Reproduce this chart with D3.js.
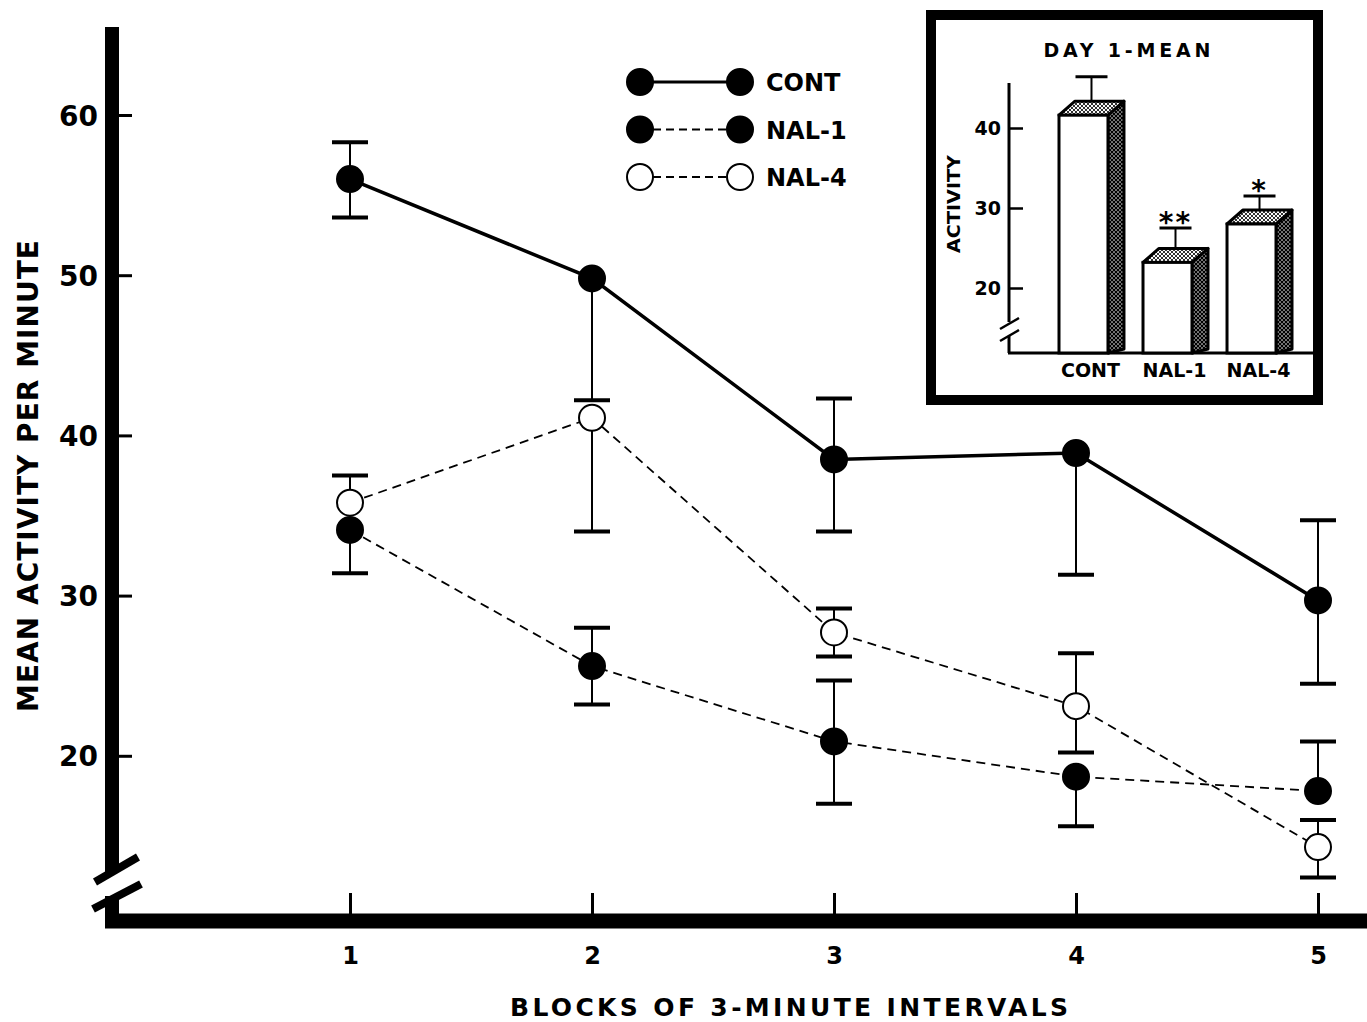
<!DOCTYPE html>
<html lang="en">
<head>
<meta charset="UTF-8">
<title>Mean activity per minute</title>
<script src="https://cdn.jsdelivr.net/npm/d3@7/dist/d3.min.js"></script>
<style>
  * { margin: 0; padding: 0; }
  body { background: #fff; }
  svg { display: block; }
  text { font-family: 'DejaVu Sans', sans-serif; font-weight: bold; fill: #000; }
</style>
</head>
<body>
<svg id="chart" width="1367" height="1022"></svg>
<script>
// ─── Data ────────────────────────────────────────────────────────────────────

const blocks  = [1, 2, 3, 4, 5];
const yTicks  = [20, 30, 40, 50, 60];

// main chart: means and the error bar ends that are drawn (null = not drawn)
const contMean = [56.0, 49.8, 38.5, 38.9, 29.7];
const contHi   = [58.3, null, 42.3, null, 34.7];
const contLo   = [53.6, 42.2, 34.0, 31.3, 24.5];

const nal1Mean = [34.1, 25.6, 20.9, 18.7, 17.8];
const nal1Hi   = [null, 28.0, 24.7, null, 20.9];
const nal1Lo   = [31.4, 23.2, 17.0, 15.6, null];

const nal4Mean = [35.8, 41.1, 27.7, 23.1, 14.3];
const nal4Hi   = [37.5, null, 29.2, 26.4, 16.0];
const nal4Lo   = [null, 34.0, 26.2, 20.2, 12.4];

const seriesNames = ['CONT', 'NAL-1', 'NAL-4'];

// inset: day 1 mean
const insetCats  = ['CONT', 'NAL-1', 'NAL-4'];
const insetMean  = [41.6, 23.2, 28.0];
const insetErr   = [46.4, 27.5, 31.5];
const insetStars = ['', '**', '*'];
const insetTicks = [20, 30, 40];

// ─── Setup ───────────────────────────────────────────────────────────────────

const svg = d3.select('#chart');

const x = d3.scaleLinear().domain([1, 5]).range([350, 1318]);
const y = d3.scaleLinear().domain([10, 60]).range([916, 115]);

const series = [
  { name: seriesNames[0], mean: contMean, hi: contHi, lo: contLo, filled: true,  dash: null,  width: 3.5 },
  { name: seriesNames[1], mean: nal1Mean, hi: nal1Hi, lo: nal1Lo, filled: true,  dash: '9,6', width: 1.8 },
  { name: seriesNames[2], mean: nal4Mean, hi: nal4Hi, lo: nal4Lo, filled: false, dash: '9,6', width: 1.8 },
];

// ─── Axes ────────────────────────────────────────────────────────────────────

const AX_X = 112, AX_Y = 921;

const yAxis = svg.append('g')
  .attr('transform', `translate(${AX_X},0)`)
  .call(d3.axisLeft(y).tickValues(yTicks).tickSizeInner(-20).tickSizeOuter(0).tickPadding(14));
yAxis.select('.domain').remove();
yAxis.selectAll('.tick line').attr('stroke', '#000').attr('stroke-width', 3);
yAxis.selectAll('.tick text').style('font-size', '28px').attr('dy', '0.36em');

const xAxis = svg.append('g')
  .attr('transform', `translate(0,${AX_Y})`)
  .call(d3.axisBottom(x).tickValues(blocks).tickFormat(d3.format('d'))
    .tickSizeInner(-28).tickSizeOuter(0).tickPadding(26));
xAxis.select('.domain').remove();
xAxis.selectAll('.tick line').attr('stroke', '#000').attr('stroke-width', 3);
xAxis.selectAll('.tick text').style('font-size', '24px');

// thick axis bars with the break
svg.append('line').attr('x1', AX_X).attr('x2', AX_X).attr('y1', 27).attr('y2', 872)
  .attr('stroke', '#000').attr('stroke-width', 14);
svg.append('line').attr('x1', AX_X).attr('x2', AX_X).attr('y1', 896).attr('y2', 928)
  .attr('stroke', '#000').attr('stroke-width', 14);
svg.append('line').attr('x1', 105).attr('x2', 1367).attr('y1', AX_Y).attr('y2', AX_Y)
  .attr('stroke', '#000').attr('stroke-width', 15);
svg.append('line').attr('x1', 95).attr('y1', 882).attr('x2', 138).attr('y2', 857)
  .attr('stroke', '#000').attr('stroke-width', 8);
svg.append('line').attr('x1', 93).attr('y1', 909).attr('x2', 141).attr('y2', 884)
  .attr('stroke', '#000').attr('stroke-width', 8);

svg.append('text')
  .attr('transform', 'translate(38,476) rotate(-90)')
  .attr('text-anchor', 'middle')
  .attr('textLength', 472).attr('lengthAdjust', 'spacing')
  .style('font-size', '28px')
  .text('MEAN ACTIVITY PER MINUTE');

svg.append('text')
  .attr('x', 789).attr('y', 1016)
  .attr('text-anchor', 'middle')
  .attr('textLength', 558).attr('lengthAdjust', 'spacing')
  .style('font-size', '25px')
  .text('BLOCKS OF 3-MINUTE INTERVALS');

// ─── Series ──────────────────────────────────────────────────────────────────

const line = d3.line().x((d, i) => x(blocks[i])).y(d => y(d));
const R = 13, CAP = 18;

series.forEach(s => {
  const g = svg.append('g');

  // error bars
  blocks.forEach((b, i) => {
    [s.hi[i], s.lo[i]].forEach(v => {
      if (v == null) return;
      g.append('line')
        .attr('x1', x(b)).attr('x2', x(b))
        .attr('y1', y(s.mean[i])).attr('y2', y(v))
        .attr('stroke', '#000').attr('stroke-width', 2);
      g.append('line')
        .attr('x1', x(b) - CAP).attr('x2', x(b) + CAP)
        .attr('y1', y(v)).attr('y2', y(v))
        .attr('stroke', '#000').attr('stroke-width', 4);
    });
  });

  g.append('path')
    .attr('d', line(s.mean))
    .attr('fill', 'none')
    .attr('stroke', '#000')
    .attr('stroke-width', s.width)
    .attr('stroke-dasharray', s.dash);

  g.selectAll('circle')
    .data(s.mean)
    .enter().append('circle')
    .attr('cx', (d, i) => x(blocks[i]))
    .attr('cy', d => y(d))
    .attr('r', R)
    .attr('fill', s.filled ? '#000' : '#fff')
    .attr('stroke', '#000')
    .attr('stroke-width', 2);
});

// ─── Legend ──────────────────────────────────────────────────────────────────

series.forEach((s, i) => {
  const ly = 82 + i * 47.5;
  const g = svg.append('g');
  g.append('line').attr('x1', 640).attr('x2', 740).attr('y1', ly).attr('y2', ly)
    .attr('stroke', '#000')
    .attr('stroke-width', s.filled && !s.dash ? 3 : 1.8)
    .attr('stroke-dasharray', s.dash ? '8,5' : null);
  [640, 740].forEach(cx => {
    g.append('circle').attr('cx', cx).attr('cy', ly).attr('r', R)
      .attr('fill', s.filled ? '#000' : '#fff')
      .attr('stroke', '#000').attr('stroke-width', 2);
  });
  g.append('text').attr('x', 766).attr('y', ly + 9)
    .style('font-size', '24px')
    .text(s.name);
});

// ─── Inset ───────────────────────────────────────────────────────────────────

const defs = svg.append('defs');
function dots(id, r) {
  const p = defs.append('pattern').attr('id', id)
    .attr('patternUnits', 'userSpaceOnUse').attr('width', 4).attr('height', 4);
  p.append('rect').attr('width', 4).attr('height', 4).attr('fill', '#fff');
  [[0, 0], [4, 0], [0, 4], [4, 4], [2, 2]].forEach(([cx, cy]) =>
    p.append('circle').attr('cx', cx).attr('cy', cy).attr('r', r).attr('fill', '#000'));
}
dots('dotsTop', 1.1);
dots('dotsSide', 1.5);

const inset = svg.append('g');
inset.append('rect')
  .attr('x', 931).attr('y', 15).attr('width', 387).attr('height', 385)
  .attr('fill', '#fff').attr('stroke', '#000').attr('stroke-width', 10);

const iy = d3.scaleLinear().domain([20, 40]).range([288, 128]);
const ix = d3.scaleBand().domain(insetCats).range([1059, 1276]).paddingInner(0.417);
const BASE = 353, DX = 16, DY = 14, IAX = 1009;

const iAxis = inset.append('g')
  .attr('transform', `translate(${IAX},0)`)
  .call(d3.axisLeft(iy).tickValues(insetTicks).tickSizeInner(-14).tickSizeOuter(0).tickPadding(8));
iAxis.select('.domain').remove();
iAxis.selectAll('.tick line').attr('stroke', '#000').attr('stroke-width', 2.5);
iAxis.selectAll('.tick text').style('font-size', '19px').attr('dy', '0.36em');

inset.append('line').attr('x1', IAX).attr('x2', IAX).attr('y1', 83).attr('y2', 322)
  .attr('stroke', '#000').attr('stroke-width', 3);
inset.append('line').attr('x1', IAX).attr('x2', IAX).attr('y1', 336).attr('y2', BASE)
  .attr('stroke', '#000').attr('stroke-width', 3);
inset.append('line').attr('x1', 1000).attr('y1', 329).attr('x2', 1019).attr('y2', 318)
  .attr('stroke', '#000').attr('stroke-width', 2.5);
inset.append('line').attr('x1', 1000).attr('y1', 341).attr('x2', 1019).attr('y2', 330)
  .attr('stroke', '#000').attr('stroke-width', 2.5);
inset.append('line').attr('x1', IAX - 1).attr('x2', 1313).attr('y1', BASE).attr('y2', BASE)
  .attr('stroke', '#000').attr('stroke-width', 3);

insetCats.forEach((c, i) => {
  const x0 = ix(c), x1 = x0 + ix.bandwidth(), yt = iy(insetMean[i]);
  const cx = x0 + ix.bandwidth() / 2 + DX / 2;

  // error bar from the back edge of the top face
  inset.append('line').attr('x1', cx).attr('x2', cx)
    .attr('y1', yt - DY).attr('y2', iy(insetErr[i]))
    .attr('stroke', '#000').attr('stroke-width', 2);
  inset.append('line').attr('x1', cx - 16).attr('x2', cx + 16)
    .attr('y1', iy(insetErr[i])).attr('y2', iy(insetErr[i]))
    .attr('stroke', '#000').attr('stroke-width', 3);

  inset.append('polygon')
    .attr('points', [[x1, yt], [x1 + DX, yt - DY], [x1 + DX, BASE - 4], [x1, BASE]].join(' '))
    .attr('fill', 'url(#dotsSide)').attr('stroke', '#000').attr('stroke-width', 3)
    .attr('stroke-linejoin', 'round');
  inset.append('polygon')
    .attr('points', [[x0, yt], [x0 + DX, yt - DY], [x1 + DX, yt - DY], [x1, yt]].join(' '))
    .attr('fill', 'url(#dotsTop)').attr('stroke', '#000').attr('stroke-width', 3)
    .attr('stroke-linejoin', 'round');
  inset.append('rect')
    .attr('x', x0).attr('y', yt).attr('width', ix.bandwidth()).attr('height', BASE - yt)
    .attr('fill', '#fff').attr('stroke', '#000').attr('stroke-width', 3);

  if (insetStars[i]) {
    inset.append('text').attr('x', cx).attr('y', iy(insetErr[i]) + 4)
      .attr('text-anchor', 'middle')
      .attr('letter-spacing', '2px')
      .style('font-size', '28px')
      .text(insetStars[i]);
  }

  inset.append('text').attr('x', x0 + ix.bandwidth() / 2 + 7).attr('y', 377)
    .attr('text-anchor', 'middle')
    .style('font-size', '19px')
    .text(c);
});

inset.append('text')
  .attr('x', 1127).attr('y', 57)
  .attr('text-anchor', 'middle')
  .attr('textLength', 167).attr('lengthAdjust', 'spacing')
  .style('font-size', '19px')
  .text('DAY 1-MEAN');

inset.append('text')
  .attr('transform', 'translate(960,204) rotate(-90)')
  .attr('text-anchor', 'middle')
  .attr('textLength', 98).attr('lengthAdjust', 'spacingAndGlyphs')
  .style('font-size', '17px')
  .text('ACTIVITY');
</script>
</body>
</html>
